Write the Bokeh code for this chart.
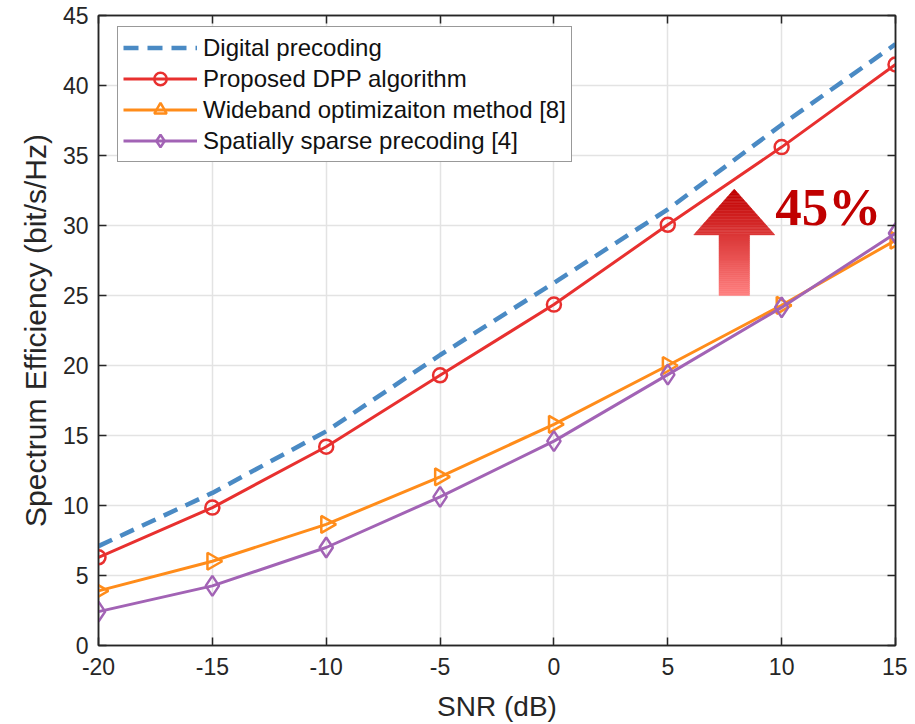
from bokeh.plotting import figure
from bokeh.models import LinearAxis, FixedTicker, Legend, CustomJSTickFormatter
from bokeh.core.properties import value
from bokeh.embed import file_html
from bokeh.resources import INLINE

# ---------------- data ----------------
snr = [-20, -15, -10, -5, 0, 5, 10, 15]
digital = [7.1, 10.9, 15.3, 20.75, 25.9, 31.15, 37.2, 42.95]
proposed = [6.3, 9.85, 14.2, 19.3, 24.35, 30.05, 35.6, 41.5]
wideband = [3.9, 6.02, 8.65, 12.05, 15.8, 20.0, 24.3, 28.95]
sparse = [2.42, 4.26, 7.0, 10.62, 14.6, 19.35, 24.15, 29.45]

x_ticks = [-20, -15, -10, -5, 0, 5, 10, 15]
x_tick_labels = ["-20", "-15", "-10", "-5", "0", "5", "10", "15"]
y_ticks = [0, 5, 10, 15, 20, 25, 30, 35, 40, 45]
y_tick_labels = ["0", "5", "10", "15", "20", "25", "30", "35", "40", "45"]

# annotation arrow (data units)
arrow_x = 7.92
arrow_bottom = 25.0
arrow_head_base = 29.33
arrow_tip = 32.6
shaft_half = 0.67
head_half = 1.78
note_text = "45%"
note_x = 9.72
note_y = 31.3

FONT = "Liberation Sans"
DARK = "#262626"

p = figure(width=907, height=716, frame_width=797, frame_height=630,
           x_range=(-20, 15), y_range=(0, 45),
           output_backend="svg", toolbar_location=None,
           min_border_left=98, min_border_right=12, min_border_top=15, min_border_bottom=71,
           background_fill_color="white", border_fill_color="white")

p.outline_line_color = DARK
p.outline_line_width = 1.5

for ax in (p.xaxis[0], p.yaxis[0]):
    ax.major_tick_in = 8
    ax.major_tick_out = 0
    ax.minor_tick_in = 0
    ax.minor_tick_out = 0
    ax.axis_line_color = DARK
    ax.axis_line_width = 1.5
    ax.major_tick_line_color = DARK
    ax.major_tick_line_width = 1.5
    ax.major_label_text_font = FONT
    ax.major_label_text_font_size = "23px"
    ax.major_label_text_color = DARK
    ax.axis_label_text_font = FONT
    ax.axis_label_text_font_style = "normal"
    ax.axis_label_text_color = DARK

p.xaxis[0].ticker = FixedTicker(ticks=x_ticks)
p.yaxis[0].ticker = FixedTicker(ticks=y_ticks)
p.xaxis[0].major_label_overrides = dict(zip(x_ticks, x_tick_labels))
p.yaxis[0].major_label_overrides = dict(zip(y_ticks, y_tick_labels))
p.xaxis[0].axis_label = "SNR (dB)"
p.yaxis[0].axis_label = "Spectrum Efficiency (bit/s/Hz)"
p.xaxis[0].axis_label_text_font_size = "28px"
p.yaxis[0].axis_label_text_font_size = "30px"
p.xaxis[0].major_label_standoff = 12
p.yaxis[0].major_label_standoff = 10
p.xaxis[0].axis_label_standoff = 13
p.yaxis[0].axis_label_standoff = 8

for loc, tk in (("right", y_ticks), ("above", x_ticks)):
    a = LinearAxis(ticker=FixedTicker(ticks=tk),
                   formatter=CustomJSTickFormatter(code="return ''"))
    a.major_tick_in = 8
    a.major_tick_out = 0
    a.minor_tick_in = 0
    a.minor_tick_out = 0
    a.axis_line_color = DARK
    a.axis_line_width = 1.5
    a.major_tick_line_color = DARK
    a.major_tick_line_width = 1.5
    a.major_label_text_font_size = "10px"
    a.major_label_standoff = 0
    p.add_layout(a, loc)

p.xgrid.ticker = FixedTicker(ticks=x_ticks)
p.ygrid.ticker = FixedTicker(ticks=y_ticks)
p.xgrid.grid_line_color = "#e3e3e3"
p.ygrid.grid_line_color = "#e3e3e3"
p.xgrid.grid_line_width = 1.5
p.ygrid.grid_line_width = 1.5

# ------------- series -------------
BLUE = "#4a8ac4"
RED = "#e8302f"
ORANGE = "#ff8c1a"
PURPLE = "#a263b5"

items = []
r1 = p.line(snr, digital, line_color=BLUE, line_width=4.5, line_dash="15 9")
items.append(("Digital precoding", [r1]))

r2 = p.line(snr, proposed, line_color=RED, line_width=3)
s2 = p.scatter(snr, proposed, marker="circle", size=14, line_color=RED, line_width=2.5, fill_color=None)
items.append(("Proposed DPP algorithm", [r2, s2]))

r3 = p.line(snr, wideband, line_color=ORANGE, line_width=3)
s3 = p.scatter(snr, wideband, marker="triangle", angle=-1.5708, size=17, line_color=ORANGE,
               line_width=2.5, fill_color=None)
items.append(("Wideband optimizaiton method [8]", [r3, s3]))

r4 = p.line(snr, sparse, line_color=PURPLE, line_width=3)
s4 = p.scatter(snr, sparse, marker="diamond", size=20, line_color=PURPLE, line_width=2.5, fill_color=None)
items.append(("Spatially sparse precoding [4]", [r4, s4]))

# ------------- gradient arrow -------------
top_rgb = (192, 0, 0)
bot_rgb = (255, 128, 128)


def grad_color(y):
    t = (y - arrow_bottom) / (arrow_tip - arrow_bottom)
    c = [round(b + (tp - b) * t) for tp, b in zip(top_rgb, bot_rgb)]
    return "#%02x%02x%02x" % tuple(c)


N = 30
shaft_l, shaft_r, shaft_b, shaft_t, shaft_c = [], [], [], [], []
dy = (arrow_head_base - arrow_bottom) / N
for i in range(N):
    y0 = arrow_bottom + i * dy
    shaft_l.append(arrow_x - shaft_half)
    shaft_r.append(arrow_x + shaft_half)
    shaft_b.append(y0)
    shaft_t.append(y0 + dy * 1.05)
    shaft_c.append(grad_color(y0 + dy / 2))
p.quad(left=shaft_l, right=shaft_r, bottom=shaft_b, top=shaft_t,
       fill_color=shaft_c, line_color=shaft_c, line_width=0.5)

hx, hy, hc = [], [], []
H = arrow_tip - arrow_head_base
dh = H / N
for i in range(N):
    y0 = arrow_head_base + i * dh
    y1 = min(y0 + dh * 1.05, arrow_tip)
    w0 = head_half * (1 - (y0 - arrow_head_base) / H)
    w1 = head_half * (1 - (y1 - arrow_head_base) / H)
    hx.append([arrow_x - w0, arrow_x + w0, arrow_x + w1, arrow_x - w1])
    hy.append([y0, y0, y1, y1])
    hc.append(grad_color(y0 + dh / 2))
p.patches(hx, hy, fill_color=hc, line_color=hc, line_width=0.5)

p.text(x=[note_x], y=[note_y], text=[note_text], text_font=value("Liberation Serif"),
       text_font_style="bold", text_font_size="53px", text_color="#c00000",
       text_baseline="alphabetic", text_align="left")

# ------------- legend -------------
legend = Legend(items=items, location=(19, 483))
legend.label_text_font = FONT
legend.label_text_font_size = "24px"
legend.label_text_color = "#111111"
legend.glyph_width = 74
legend.glyph_height = 31
legend.label_height = 25
legend.label_standoff = 6
legend.spacing = 0
legend.padding = 5
legend.margin = 0
legend.border_line_color = "#333333"
legend.border_line_width = 1.2
legend.background_fill_color = "white"
legend.background_fill_alpha = 1
p.add_layout(legend, "center")

with open("out.html", "w") as f:
    f.write(file_html(p, INLINE))
